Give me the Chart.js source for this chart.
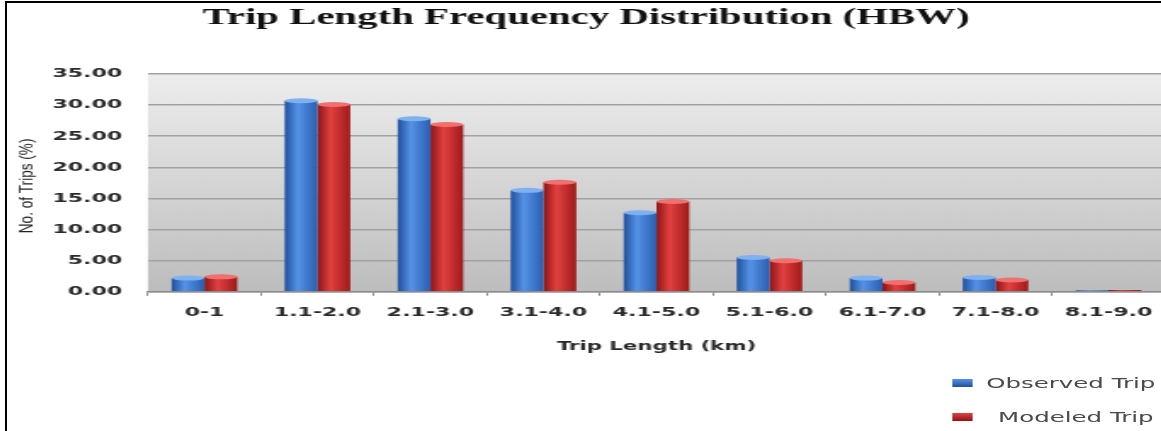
<!DOCTYPE html>
<html>
<head>
<meta charset="utf-8">
<script src="https://cdn.jsdelivr.net/npm/chart.js@4.4.1/dist/chart.umd.min.js"></script>
<style>
  html, body { margin: 0; padding: 0; background: #fff; overflow: hidden; width: 1161px; height: 431px; }
  #frame { position: absolute; left: 5px; top: 1px; width: 1200px; height: 460px;
           border-left: 2px solid #000; border-top: 2px solid #000; }
  /* the whole chart is drawn narrow and widened horizontally */
  #wrap { position: absolute; left: 7px; top: 3px; width: 692px; height: 428px;
          transform: scaleX(1.7); transform-origin: 0 0; }
  #chart { display: block; }
  #legend { position: absolute; left: 556px; top: 370px; font-family: "DejaVu Sans", sans-serif;
            font-size: 14.4px; color: #4a4a4a; }
  .row { position: absolute; left: 0; height: 20px; white-space: nowrap; }
  .sw { position: absolute; left: 0; top: 6px; width: 12px; height: 8px; }
  .txt { position: absolute; top: 0; line-height: 20px; }
</style>
</head>
<body>
<div id="frame"></div>
<div id="wrap">
  <canvas id="chart" width="692" height="428"></canvas>
  <div id="legend"></div>
</div>
<script>
const categories = ['0-1', '1.1-2.0', '2.1-3.0', '3.1-4.0', '4.1-5.0', '5.1-6.0', '6.1-7.0', '7.1-8.0', '8.1-9.0'];
const observedTrip = [2.2, 30.7, 27.8, 16.3, 12.7, 5.5, 2.2, 2.3, 0.25];
const modeledTrip = [2.4, 30.1, 26.9, 17.6, 14.5, 5.0, 1.5, 1.9, 0.3];
const seriesNames = ['Observed Trip', 'Modeled Trip'];

const CAT_PCT = 0.58;
const STRETCH = 1.7;
const blueStops = ['#1f4f9c', '#5592e6', '#2a5eb0'];
const redStops = ['#8c1414', '#e24040', '#9e1a1a'];

// horizontal shading across each bar, placed from the category scale
function barFill(stops) {
  return function (ctx) {
    const chart = ctx.chart;
    const xs = chart.scales.x;
    if (ctx.type !== 'data' || !xs || !xs.width) return stops[1];
    const n = chart.data.labels.length;
    const cat = xs.width / n;
    const bw = cat * CAT_PCT / 2;
    const center = xs.getPixelForValue(ctx.dataIndex);
    const left = center - cat * CAT_PCT / 2 + ctx.datasetIndex * bw;
    const g = chart.ctx.createLinearGradient(left, 0, left + bw, 0);
    g.addColorStop(0, stops[0]);
    g.addColorStop(0.4, stops[1]);
    g.addColorStop(1, stops[2]);
    return g;
  };
}

const plotBackground = {
  id: 'plotBackground',
  beforeDraw(chart) {
    const { ctx, chartArea: a } = chart;
    const g = ctx.createLinearGradient(0, a.top, 0, a.bottom);
    g.addColorStop(0, '#ededed');
    g.addColorStop(1, '#bdbdbd');
    ctx.save();
    ctx.fillStyle = g;
    ctx.fillRect(a.left, a.top, a.right - a.left, a.bottom - a.top);
    ctx.restore();
  }
};

// rounded highlight on the top of every bar
const barCaps = {
  id: 'barCaps',
  afterDatasetsDraw(chart) {
    const ctx = chart.ctx;
    chart.data.datasets.forEach((ds, di) => {
      const meta = chart.getDatasetMeta(di);
      const light = di === 0 ? '#7fb0f0' : '#f07070';
      meta.data.forEach(bar => {
        const { x, y, width, base } = bar.getProps(['x', 'y', 'width', 'base'], true);
        const ry = Math.min(2.5, Math.abs(base - y) / 2);
        if (ry < 1) return;
        ctx.save();
        ctx.fillStyle = light;
        ctx.beginPath();
        ctx.ellipse(x, y, width / 2, ry, 0, 0, Math.PI * 2);
        ctx.fill();
        ctx.restore();
      });
    });
  }
};

// y-axis title: upright against the horizontal widening, condensed along its length
const yTitle = {
  id: 'yTitle',
  afterDraw(chart) {
    const ctx = chart.ctx;
    const a = chart.chartArea;
    ctx.save();
    ctx.translate(12.2, (a.top + a.bottom) / 2 + 3);
    ctx.scale(1 / STRETCH, 1);
    ctx.rotate(-Math.PI / 2);
    ctx.scale(0.8, 1);
    ctx.font = '17px "Liberation Sans", Arial, sans-serif';
    ctx.fillStyle = '#222';
    ctx.textAlign = 'center';
    ctx.textBaseline = 'middle';
    ctx.fillText('No. of Trips (%)', 0, 0);
    ctx.restore();
  }
};

const chart = new Chart(document.getElementById('chart'), {
  type: 'bar',
  data: {
    labels: categories,
    datasets: [
      { label: seriesNames[0], data: observedTrip, backgroundColor: barFill(blueStops), borderWidth: 0 },
      { label: seriesNames[1], data: modeledTrip, backgroundColor: barFill(redStops), borderWidth: 0 }
    ]
  },
  options: {
    responsive: false,
    animation: false,
    devicePixelRatio: 1,
    categoryPercentage: CAT_PCT,
    barPercentage: 1.0,
    layout: { padding: { left: 0, right: 10.8, top: 0, bottom: 76.6 } },
    plugins: {
      legend: { display: false },
      tooltip: { enabled: false },
      title: {
        display: true,
        text: 'Trip Length Frequency Distribution (HBW)',
        color: '#111',
        font: { family: '"Liberation Serif", "Times New Roman", serif', size: 24, weight: 'bold' },
        padding: { top: 0, bottom: 42.2 }
      }
    },
    scales: {
      x: {
        grid: { display: true, drawOnChartArea: false, drawTicks: true, tickLength: 4, color: '#8a8a8a', offset: true },
        border: { display: true, color: '#8d8d8d', width: 1.5 },
        ticks: {
          color: '#2a2a2a', padding: 9, autoSkip: false, maxRotation: 0,
          font: { family: '"DejaVu Sans", sans-serif', size: 13, weight: 'bold' }
        },
        title: {
          display: true, text: 'Trip Length (km)', color: '#2a2a2a',
          font: { family: '"DejaVu Sans", sans-serif', size: 12.5, weight: 'bold' },
          padding: { top: 10, bottom: 0 }
        }
      },
      y: {
        min: 0, max: 35,
        afterFit(scale) { scale.width = 82.9; },
        grid: { color: '#a2a2a2', lineWidth: 1.5, drawTicks: false },
        border: { display: false },
        ticks: {
          stepSize: 5, padding: 15, color: '#2a2a2a',
          font: { family: '"DejaVu Sans", sans-serif', size: 13, weight: 'bold' },
          callback: v => Number(v).toFixed(2)
        }
      }
    }
  },
  plugins: [plotBackground, barCaps, yTitle]
});

// legend built from the chart's datasets
const legend = document.getElementById('legend');
const swatches = [blueStops, redStops];
chart.data.datasets.forEach((ds, i) => {
  const row = document.createElement('div');
  row.className = 'row';
  row.style.top = (i * 34) + 'px';
  const sw = document.createElement('div');
  sw.className = 'sw';
  const s = swatches[i];
  sw.style.background = 'linear-gradient(to bottom, ' + s[1] + ', ' + s[0] + ')';
  const txt = document.createElement('div');
  txt.className = 'txt';
  txt.style.left = (i === 0 ? 20 : 27) + 'px';
  txt.textContent = ds.label;
  row.appendChild(sw);
  row.appendChild(txt);
  legend.appendChild(row);
});
</script>
</body>
</html>
